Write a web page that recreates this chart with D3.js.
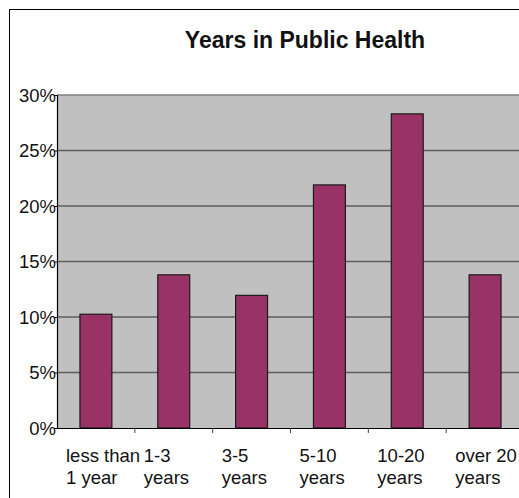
<!DOCTYPE html>
<html>
<head>
<meta charset="utf-8">
<script src="https://cdn.jsdelivr.net/npm/d3@7"></script>
<style>
  html, body { margin: 0; padding: 0; background: #fff; }
  svg { display: block; }
  text { font-family: "Liberation Sans", Arial, sans-serif; fill: #111; }
</style>
</head>
<body>
<div id="chart"></div>
<script>
const title = "Years in Public Health";
const categories = ["less than 1 year", "1-3 years", "3-5 years", "5-10 years", "10-20 years", "over 20 years"];
const categoryLabelLines = [["less than", "1 year"], ["1-3", "years"], ["3-5", "years"], ["5-10", "years"], ["10-20", "years"], ["over 20", "years"]];
const values = [0.1025, 0.138, 0.1195, 0.219, 0.283, 0.138];
const yTicks = [0, 0.05, 0.10, 0.15, 0.20, 0.25, 0.30];

const W = 519, H = 498;
const plot = { left: 57, top: 95, bottom: 428, right: 524 };

const svg = d3.select("#chart").append("svg")
  .attr("width", W).attr("height", H);

// outer chart border (right/bottom cropped out of view)
svg.append("rect")
  .attr("x", 9.5).attr("y", 9.5)
  .attr("width", 600).attr("height", 600)
  .attr("fill", "#fff").attr("stroke", "#000").attr("stroke-width", 1);

const x = d3.scaleBand().domain(categories).range([plot.left, plot.right]).padding(0);
const y = d3.scaleLinear().domain([0, 0.30]).range([plot.bottom, plot.top]);

// plot background
svg.append("rect")
  .attr("x", plot.left).attr("y", plot.top)
  .attr("width", plot.right - plot.left).attr("height", plot.bottom - plot.top)
  .attr("fill", "#c0c0c0");

// gridlines
svg.append("g").selectAll("line")
  .data(yTicks.filter(d => d > 0))
  .join("line")
  .attr("x1", plot.left).attr("x2", plot.right)
  .attr("y1", d => y(d)).attr("y2", d => y(d))
  .attr("stroke", d => d === 0.30 ? "#808080" : "#5e5e5e")
  .attr("stroke-width", 1.4);

// bars
const bw = x.bandwidth() * 0.41;
svg.append("g").selectAll("rect")
  .data(values)
  .join("rect")
  .attr("x", (d, i) => x(categories[i]) + x.bandwidth() / 2 - bw / 2)
  .attr("y", d => y(d))
  .attr("width", bw)
  .attr("height", d => y(0) - y(d))
  .attr("fill", "#993366")
  .attr("stroke", "#1a1a1a")
  .attr("stroke-width", 1.2);

// y axis
const yAxis = d3.axisLeft(y).tickValues(yTicks).tickFormat(d3.format(".0%")).tickSize(3).tickPadding(-2);
const gy = svg.append("g").attr("transform", `translate(${plot.left},0)`).call(yAxis);
gy.select(".domain").attr("stroke", "#000").attr("stroke-width", 1.2);
gy.selectAll(".tick line").attr("stroke", "#000");
gy.selectAll(".tick text")
  .style("font-size", "18.5px")
  .attr("fill", "#111")
  .attr("dy", "0.35em");

// x axis
const xAxis = d3.axisBottom(x).tickSize(0).tickFormat("");
const gx = svg.append("g").attr("transform", `translate(0,${plot.bottom})`).call(xAxis);
gx.select(".domain").attr("stroke", "#000").attr("stroke-width", 1.2);
// tick marks at category boundaries
svg.append("g").selectAll("line")
  .data(categories.slice(1))
  .join("line")
  .attr("x1", d => x(d)).attr("x2", d => x(d))
  .attr("y1", plot.bottom).attr("y2", plot.bottom + 5)
  .attr("stroke", "#444").attr("stroke-width", 1);

// category labels (left-aligned blocks inside each category slot)
const lab = svg.append("g").selectAll("text")
  .data(categories)
  .join("text")
  .attr("text-anchor", "start")
  .style("font-size", "18.5px");
lab.each(function (d, i) {
  const t = d3.select(this);
  const lx = x(d) + 9;
  categoryLabelLines[i].forEach((line, j) => {
    t.append("tspan").attr("x", lx).attr("y", 462 + j * 22).text(line);
  });
});

// title
svg.append("text")
  .attr("x", 305).attr("y", 48)
  .attr("text-anchor", "middle")
  .style("font-size", "23px").style("font-weight", "bold")
  .text(title);
</script>
</body>
</html>
